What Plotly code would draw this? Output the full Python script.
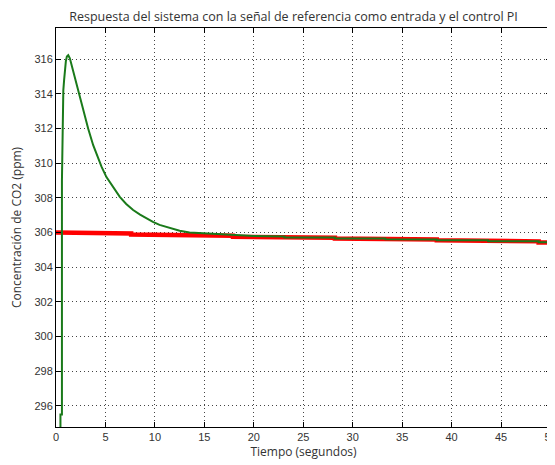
import plotly.graph_objects as go

# Reference signal (red): stepped, slowly decreasing
ref_t = [0, 2.5, 2.5, 7.6, 7.6, 12.8, 12.8, 17.9, 17.9, 23.1, 23.1, 28.2, 28.2,
         33.3, 33.3, 38.5, 38.5, 43.7, 43.7, 48.8, 48.8, 50.1]
ref_y = [306.0, 306.0, 305.94, 305.94, 305.88, 305.88, 305.82, 305.82, 305.76, 305.76,
         305.70, 305.70, 305.65, 305.65, 305.60, 305.60, 305.55, 305.55, 305.49, 305.49,
         305.43, 305.43]

# System response (green)
out_t = [0, 0.45, 0.45, 0.6, 0.6, 0.68, 0.74, 0.82, 0.9, 1.0, 1.1, 1.24, 1.4, 1.6,
         1.91, 2.25, 2.58, 2.9, 3.25, 3.76, 4.1, 4.6, 5.1, 5.8, 6.45, 7.1, 7.8, 8.5,
         9.13, 9.8, 10.47, 11.5, 12.5, 13.5, 15.0, 16.4, 17.8, 17.9, 20.0, 23.1, 23.1,
         28.2, 28.2, 33.3, 33.3, 38.5, 38.5, 43.7, 43.7, 48.8, 48.8, 50.1]
out_y = [290.0, 290.0, 295.5, 295.5, 309.0, 313.25, 314.2, 314.8, 315.4, 315.9, 316.15,
         316.23, 316.05, 315.6, 314.9, 314.1, 313.35, 312.65, 312.0, 311.04, 310.5,
         309.8, 309.2, 308.6, 308.06, 307.65, 307.3, 307.03, 306.82, 306.62, 306.44,
         306.25, 306.1, 306.0, 305.95, 305.9, 305.86, 305.83, 305.8, 305.77, 305.72,
         305.71, 305.66, 305.65, 305.61, 305.60, 305.56, 305.55, 305.50, 305.49, 305.44,
         305.43]

x_ticks = [0, 5, 10, 15, 20, 25, 30, 35, 40, 45, 50]
y_ticks = [296, 298, 300, 302, 304, 306, 308, 310, 312, 314, 316]

fig = go.Figure()
fig.add_trace(go.Scatter(x=ref_t, y=ref_y, mode="lines",
                         line=dict(color="#ff0000", width=4.5), showlegend=False))
fig.add_trace(go.Scatter(x=out_t, y=out_y, mode="lines",
                         line=dict(color="#1a7a1a", width=2), showlegend=False))

tick_font = dict(family="Liberation Sans, Arial", size=11, color="#333333")
title_font = dict(family="Open Sans, Noto Sans, sans-serif", size=12, color="#333333")

axis_common = dict(showline=True, linecolor="black", linewidth=1, mirror="ticks",
                   ticks="inside", ticklen=5, tickcolor="black",
                   showgrid=True, gridcolor="#444444", griddash="1px,3px", gridwidth=1,
                   zeroline=False, automargin=False, tickfont=tick_font,
                   ticklabeloverflow="allow")

# page body has an 8px margin, so the figure is sized to fit the window
fig.update_layout(
    width=547, height=457,
    margin=dict(l=48, r=4, t=20, b=38),
    paper_bgcolor="white", plot_bgcolor="white",
    title=dict(text="Respuesta del sistema con la señal de referencia como entrada y el control PI",
               x=0.522, xanchor="center", y=0.981, yanchor="middle",
               font=dict(family="Open Sans, Noto Sans, sans-serif", size=12.5, color="#333333")),
    xaxis=dict(range=[0, 50.05], tickvals=x_ticks,
               title=dict(text="Tiempo (segundos)", standoff=0, font=title_font),
               **axis_common),
    yaxis=dict(range=[294.78, 317.8], tickvals=y_ticks,
               title=dict(text="Concentración de CO2 (ppm)", standoff=10, font=title_font),
               **axis_common),
)

fig.write_html("out.html")
